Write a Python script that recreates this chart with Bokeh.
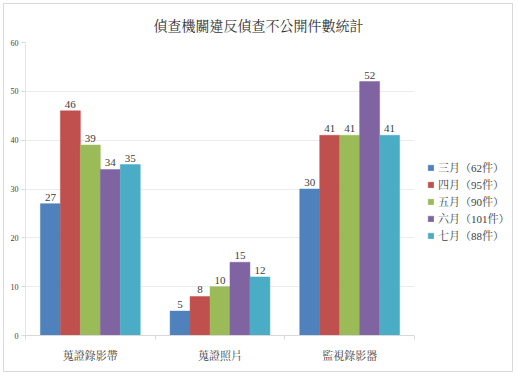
from bokeh.plotting import figure
from bokeh.models import (ColumnDataSource, FixedTicker, Range1d, Legend, LegendItem, Title)
from bokeh.core.properties import value
from bokeh.embed import file_html
from bokeh.resources import INLINE

title_text = "偵查機關違反偵查不公開件數統計"
categories = ["蒐證錄影帶", "蒐證照片", "監視錄影器"]
series_names = ["三月（62件）", "四月（95件）", "五月（90件）", "六月（101件）", "七月（88件）"]
series_values = [
    [27, 5, 30],
    [46, 8, 41],
    [39, 10, 41],
    [34, 15, 52],
    [35, 12, 41],
]
colors = ["#4F81BD", "#C0504D", "#9BBB59", "#8064A2", "#4BACC6"]
y_ticks = [0, 10, 20, 30, 40, 50, 60]

CJK = "'Noto Serif CJK TC', 'Noto Sans CJK TC', serif"
NUM = "'Liberation Serif', 'Noto Serif CJK TC', 'Noto Sans CJK TC', serif"

ncat = len(categories)
plot_px = 389.0           # pixel width of the category area
frame_px = 487.0          # frame incl. legend area
x_end = ncat * frame_px / plot_px

p = figure(width=510, height=369, output_backend="svg", toolbar_location=None,
           x_range=Range1d(0, x_end), y_range=Range1d(0, 60),
           min_border_left=21, min_border_right=2, min_border_top=38, min_border_bottom=38,
           background_fill_color="white", border_fill_color="white")
p.styles = {"margin-left": "3px", "margin-top": "3px", "border": "1px solid #d9d9d9"}
p.outline_line_color = None

t = Title(text=title_text, align="left", offset=128, standoff=15, text_font=CJK,
          text_font_size="14px", text_font_style="normal", text_color="#333333")
p.add_layout(t, "above")

n = len(series_values)
bw = 0.154
renderers = []
for k, (vals, c) in enumerate(zip(series_values, colors)):
    xs = [i + 0.5 + (k - (n - 1) / 2) * bw for i in range(ncat)]
    src = ColumnDataSource(dict(x=xs, top=vals, label=[str(v) for v in vals]))
    r = p.vbar(x="x", top="top", width=bw, source=src, fill_color=c, line_color=c, line_width=0.5)
    p.text(x="x", y="top", text="label", source=src, text_align="center",
           text_baseline="bottom", y_offset=-3, text_font=value(NUM),
           text_font_size="11px", text_color="#404040")
    renderers.append(r)

# axes
p.xaxis.bounds = (0, ncat)
p.xaxis.ticker = FixedTicker(ticks=[i + 0.5 for i in range(ncat)],
                             minor_ticks=list(range(ncat + 1)))
p.xaxis.major_label_overrides = {i + 0.5: c for i, c in enumerate(categories)}
p.xaxis.major_tick_line_color = None
p.xaxis.minor_tick_line_color = "#d9d9d9"
p.xaxis.minor_tick_out = 4
p.xaxis.minor_tick_in = 0
p.xaxis.axis_line_color = "#d9d9d9"
p.xaxis.major_label_text_font = CJK
p.xaxis.major_label_text_font_size = "11px"
p.xaxis.major_label_text_color = "#404040"
p.xaxis.major_label_standoff = 5

p.yaxis.ticker = FixedTicker(ticks=y_ticks, minor_ticks=[])
p.yaxis.axis_line_color = "#e6e6e6"
p.yaxis.major_tick_line_color = "#d9d9d9"
p.yaxis.major_tick_out = 4
p.yaxis.major_tick_in = 0
p.yaxis.major_label_text_font = NUM
p.yaxis.major_label_text_font_size = "8px"
p.yaxis.major_label_text_color = "#404040"
p.yaxis.major_label_standoff = 3

p.xgrid.grid_line_color = None
p.ygrid.grid_line_color = "#ececec"
p.ygrid.cross_bounds = (0, ncat)

legend = Legend(items=[LegendItem(label=nm, renderers=[r]) for nm, r in zip(series_names, renderers)],
                location=(402, 92), glyph_width=7, glyph_height=7, label_standoff=4,
                spacing=1, padding=0, margin=0, border_line_color=None,
                background_fill_alpha=0, label_text_font=NUM, label_text_font_size="11px",
                label_text_color="#404040", label_height=10)
p.add_layout(legend, "center")

open("out.html", "w").write(file_html(p, INLINE))
